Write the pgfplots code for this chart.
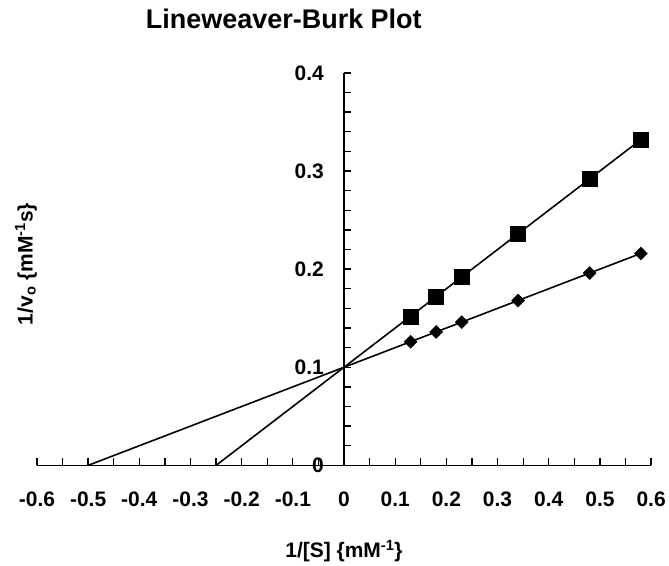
\documentclass[border=0pt]{standalone}
\usepackage{pgfplots}
\pgfplotsset{compat=1.18}
\usepackage{fontspec}
\setmainfont{Liberation Sans}

% rate data: without inhibitor (diamonds) and with inhibitor (squares)
\pgfplotstableread{
x     y
0.13  0.152
0.18  0.172
0.23  0.192
0.34  0.236
0.48  0.292
0.58  0.332
}\inhib
\pgfplotstableread{
x     y
0.13  0.126
0.18  0.136
0.23  0.146
0.34  0.168
0.48  0.196
0.58  0.216
}\noinhib

\begin{document}
\begin{tikzpicture}
\path (-37pt,-97pt) rectangle (632pt,466pt);
\begin{axis}[
  scale only axis, width=615pt, height=393pt,
  axis lines=middle, axis line style={-, line width=1.6pt},
  xmin=-0.6, xmax=0.6, ymin=0, ymax=0.4,
  xtick={-0.6,-0.5,-0.4,-0.3,-0.2,-0.1,0,0.1,0.2,0.3,0.4,0.5,0.6},
  minor x tick num=1,
  ytick={0,0.1,0.2,0.3,0.4}, minor y tick num=4,
  tick align=inside,
  major tick length=7pt, minor tick length=7pt,
  every tick/.style={black, line width=1.3pt},
  /pgf/number format/assume math mode=true,
  /pgf/number format/fixed,
  tick label style={font=\fontsize{21}{21}\selectfont\bfseries},
  xticklabel style={anchor=center, yshift=-34pt},
  yticklabel style={anchor=east, inner sep=0pt, xshift=-20pt},
  title={Lineweaver-Burk Plot},
  title style={at={(axis description cs:0.402,1.097)}, anchor=base,
    inner sep=0pt, font=\fontsize{27}{29}\selectfont\bfseries},
  xlabel={1/[S] \{mM\textsuperscript{-1}\}},
  ylabel={1/v\textsubscript{o} \{mM\textsuperscript{-1}s\}},
  label style={font=\fontsize{21}{21}\selectfont\bfseries},
  xlabel style={at={(axis description cs:0.5,-0.218)}, anchor=center},
  ylabel style={at={(axis description cs:-0.018,0.513)}, anchor=center, rotate=90},
  clip=false,
]
\addplot[black, line width=1.6pt] coordinates {(-0.25,0) (0.58,0.332)};
\addplot[black, only marks, mark=square*, mark size=7.5pt] table {\inhib};
\addplot[black, line width=1.6pt] coordinates {(-0.5,0) (0.58,0.216)};
\addplot[black, only marks, mark=square*, mark size=4.6pt, mark options={rotate=45}] table {\noinhib};
% origin labels (pgfplots drops them on centred axes)
\node[font=\fontsize{21}{21}\selectfont\bfseries, yshift=-34pt] at (axis cs:0,0) {0};
\node[font=\fontsize{21}{21}\selectfont\bfseries, anchor=east, inner sep=0pt, xshift=-20pt] at (axis cs:0,0) {0};
\end{axis}
\end{tikzpicture}
\end{document}
